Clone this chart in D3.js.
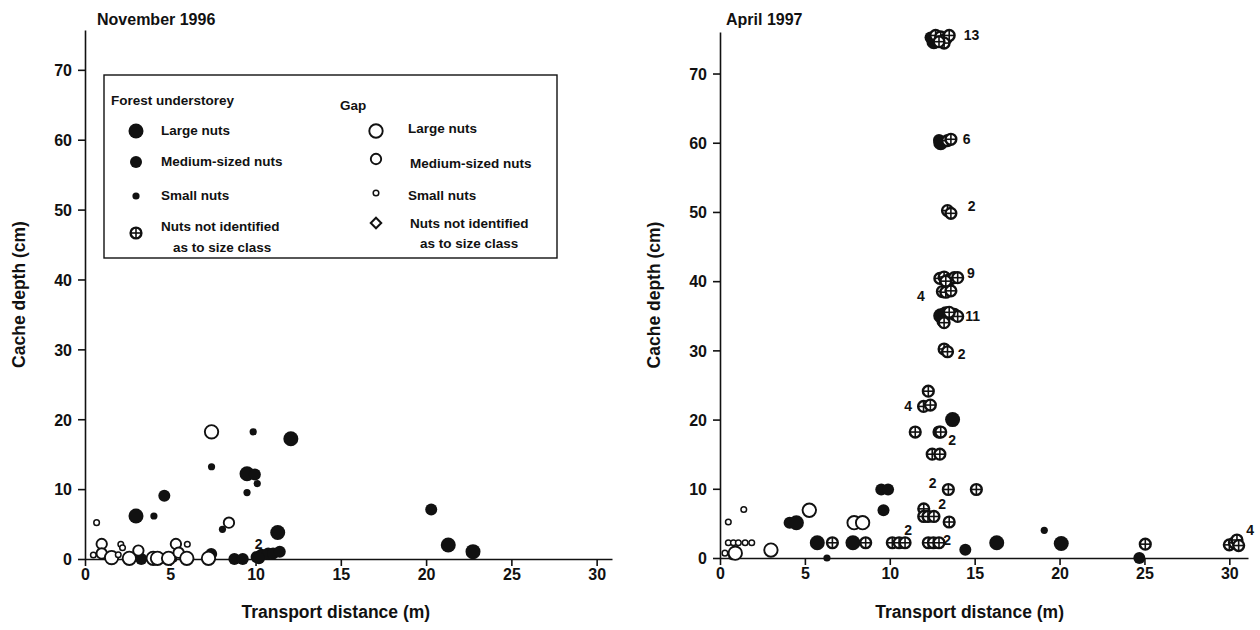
<!DOCTYPE html>
<html>
<head>
<meta charset="utf-8">
<script src="https://cdn.jsdelivr.net/npm/d3@7/dist/d3.min.js"></script>
<style>
  body { margin: 0; background: #fff; }
  svg { font-family: "Liberation Sans", Arial, sans-serif; font-weight: bold; }
  .axis path, .axis line { stroke: #111; stroke-width: 1.6px; }
  .axis text { font-size: 16px; font-weight: bold; fill: #111; font-family: "Liberation Sans", Arial, sans-serif; }
</style>
</head>
<body>
<svg id="chart" width="1260" height="630"></svg>
<script>
// Cache depth vs transport distance, two survey dates
// point types: F = forest understorey (filled), G = gap (open), L/M/S = size, X = not identified

const xTicks = [0, 5, 10, 15, 20, 25, 30];
const yTicks = [0, 10, 20, 30, 40, 50, 60, 70];

const nov96Points = [
  // forest understorey
  [9.86, 18.2, 'FS'], [12.07, 17.2, 'FL'], [7.42, 13.2, 'FS'], [9.5, 12.2, 'FL'], [9.96, 12.1, 'FM'],
  [10.1, 10.8, 'FS'], [9.5, 9.5, 'FS'], [4.65, 9.06, 'FM'], [2.99, 6.15, 'FL'], [4.04, 6.15, 'FS'],
  [8.06, 4.25, 'FS'], [11.3, 3.8, 'FL'], [7.4, 0.7, 'FM'], [8.76, 0, 'FM'], [9.25, 0, 'FM'],
  [10.06, 0.3, 'FM'], [10.35, 0.6, 'FM'], [10.74, 0.8, 'FM'], [11.03, 0.8, 'FM'], [11.42, 1.05, 'FM'],
  [10.2, 0.1, 'FM'], [3.3, 0, 'FM'], [5.2, 0, 'FS'],
  [20.3, 7.1, 'FM'], [21.3, 2.0, 'FL'], [22.75, 1.05, 'FL'],
  // gap
  [7.42, 18.2, 'GL'], [0.68, 5.2, 'GS'], [8.44, 5.2, 'GM'], [0.98, 2.15, 'GM'], [2.1, 2.1, 'GS'],
  [2.2, 1.6, 'GS'], [5.33, 2.15, 'GM'], [6.0, 2.1, 'GS'], [0.49, 0.57, 'GS'], [0.98, 0.8, 'GM'],
  [1.56, 0.2, 'GL'], [1.95, 0.6, 'GS'], [2.6, 0.1, 'GL'], [3.13, 1.2, 'GM'], [4.0, 0.1, 'GL'],
  [4.25, 0.1, 'GL'], [4.9, 0.1, 'GL'], [5.49, 0.9, 'GM'], [5.97, 0.1, 'GL'], [7.24, 0.1, 'GL']
];
const nov96Labels = [[9.95, 2.1, '2']];

const apr97Points = [
  // forest understorey, sized
  [4.1, 5.1, 'FM'], [4.5, 5.1, 'FL'], [5.73, 2.2, 'FL'], [6.3, 0, 'FS'], [7.83, 2.2, 'FL'],
  [9.5, 9.9, 'FM'], [9.9, 9.9, 'FM'], [9.63, 6.9, 'FM'], [13.7, 20, 'FL'], [14.45, 1.2, 'FM'],
  [16.3, 2.2, 'FL'], [19.1, 4.0, 'FS'], [20.1, 2.1, 'FL'], [24.7, 0, 'FM'],
  [12.6, 74.6, 'FL'], [12.4, 75.2, 'FM'], [13.0, 60.0, 'FL'], [12.9, 60.4, 'FM'],
  [13.0, 35.0, 'FL'], [13.3, 35.3, 'FL'], [13.1, 34.2, 'FM'],
  // forest understorey, not identified
  [6.62, 2.2, 'FX'], [8.58, 2.2, 'FX'], [10.15, 2.2, 'FX'], [10.55, 2.2, 'FX'], [10.9, 2.2, 'FX'],
  [12.27, 24.1, 'FX'], [11.99, 21.9, 'FX'], [12.39, 22.1, 'FX'], [11.5, 18.2, 'FX'], [12.9, 18.2, 'FX'],
  [13.0, 18.2, 'FX'], [12.5, 15, 'FX'], [12.95, 15, 'FX'], [13.45, 9.9, 'FX'], [15.1, 9.9, 'FX'],
  [12.0, 7.1, 'FX'], [12.0, 6.0, 'FX'], [12.25, 6.0, 'FX'], [12.6, 6.0, 'FX'], [13.5, 5.2, 'FX'],
  [12.27, 2.2, 'FX'], [12.57, 2.2, 'FX'], [12.9, 2.2, 'FX'], [25.05, 2.0, 'FX'],
  [30.0, 1.9, 'FX'], [30.3, 2.2, 'FX'], [30.45, 2.6, 'FX'], [30.55, 1.8, 'FX'],
  [12.7, 75.5, 'FX'], [13.0, 75.3, 'FX'], [13.3, 75.0, 'FX'], [13.5, 75.5, 'FX'], [13.2, 74.4, 'FX'], [12.9, 74.6, 'FX'],
  [13.4, 60.3, 'FX'], [13.6, 60.5, 'FX'],
  [13.4, 50.2, 'FX'], [13.6, 49.8, 'FX'],
  [12.95, 40.4, 'FX'], [13.2, 40.6, 'FX'], [13.5, 40.2, 'FX'], [13.8, 40.5, 'FX'], [14.0, 40.5, 'FX'], [13.3, 40.0, 'FX'],
  [13.1, 38.5, 'FX'], [13.3, 38.4, 'FX'], [13.6, 38.6, 'FX'],
  [13.8, 35.2, 'FX'], [14.0, 34.9, 'FX'], [13.5, 35.5, 'FX'], [13.2, 34.0, 'FX'],
  [13.2, 30.2, 'FX'], [13.4, 29.8, 'FX'],
  // gap
  [0.49, 5.2, 'GS'], [1.4, 7.0, 'GS'], [0.49, 2.2, 'GS'], [0.79, 2.2, 'GS'], [1.08, 2.2, 'GS'],
  [1.48, 2.2, 'GS'], [1.87, 2.2, 'GS'], [0.29, 0.7, 'GS'], [0.7, 0.2, 'GS'], [0.9, 0.7, 'GL'],
  [3.0, 1.15, 'GL'], [5.26, 6.9, 'GL'], [7.9, 5.1, 'GL'], [8.4, 5.1, 'GL']
];
const apr97Labels = [
  [14.35, 75.6, '13'], [14.3, 60.5, '6'], [14.6, 50.9, '2'], [14.55, 41.2, '9'], [11.6, 37.8, '4'],
  [14.45, 34.9, '11'], [14.0, 29.5, '2'], [10.85, 21.9, '4'], [13.45, 17.1, '2'], [12.3, 10.8, '2'],
  [12.85, 7.8, '2'], [10.85, 4.0, '2'], [13.15, 2.6, '2'], [31.0, 4.0, '4']
];

const legendLeft = [['FL', 'Large nuts'], ['FM', 'Medium-sized nuts'], ['FS', 'Small nuts'], ['FX', 'Nuts not identified', 'as to size class']];
const legendRight = [['GL', 'Large nuts'], ['GM', 'Medium-sized nuts'], ['GS', 'Small nuts'], ['GD', 'Nuts not identified', 'as to size class']];

const RADIUS = { L: 7.5, M: 6, S: 3.6, X: 5.4 };

const svg = d3.select('#chart');

function drawMarker(g, type, cx, cy) {
  const kind = type[0], size = type[1];
  if (size === 'X') {
    const r = RADIUS.X;
    g.append('circle').attr('cx', cx).attr('cy', cy).attr('r', r)
      .attr('fill', '#fff').attr('stroke', '#111').attr('stroke-width', 2.4);
    g.append('line').attr('x1', cx - r).attr('x2', cx + r).attr('y1', cy).attr('y2', cy)
      .attr('stroke', '#111').attr('stroke-width', 1.6);
    g.append('line').attr('x1', cx).attr('x2', cx).attr('y1', cy - r).attr('y2', cy + r)
      .attr('stroke', '#111').attr('stroke-width', 1.6);
  } else if (size === 'D') {
    g.append('path').attr('d', d3.symbol(d3.symbolDiamond2, 70)())
      .attr('transform', `translate(${cx},${cy})`)
      .attr('fill', '#fff').attr('stroke', '#111').attr('stroke-width', 2);
  } else if (kind === 'F') {
    g.append('circle').attr('cx', cx).attr('cy', cy).attr('r', RADIUS[size]).attr('fill', '#111');
  } else {
    const r = RADIUS[size] - 0.8;
    g.append('circle').attr('cx', cx).attr('cy', cy).attr('r', r)
      .attr('fill', '#fff').attr('stroke', '#111').attr('stroke-width', size === 'S' ? 1.5 : 1.9);
  }
}

function drawPanel(cfg) {
  const x = d3.scaleLinear().domain([0, cfg.xMax]).range([cfg.left, cfg.right]);
  const y = d3.scaleLinear().domain([0, cfg.yMax]).range([cfg.bottom, cfg.top]);

  svg.append('g').attr('class', 'axis')
    .attr('transform', `translate(0,${cfg.bottom})`)
    .call(d3.axisBottom(x).tickValues(xTicks).tickSize(7).tickSizeOuter(0).tickPadding(3));

  svg.append('g').attr('class', 'axis')
    .attr('transform', `translate(${cfg.left},0)`)
    .call(d3.axisLeft(y).tickValues(yTicks).tickSize(7).tickSizeOuter(0).tickPadding(6))
    .call(g => g.selectAll('.tick text').attr('dy', '0.36em'));

  svg.append('text').attr('x', cfg.titleX).attr('y', 25)
    .attr('font-size', 16).attr('fill', '#111').text(cfg.title);

  svg.append('text').attr('x', (cfg.left + x(30)) / 2 - 5).attr('y', 618)
    .attr('text-anchor', 'middle').attr('font-size', 17.5).attr('fill', '#111')
    .text('Transport distance (m)');

  svg.append('text')
    .attr('transform', `translate(${cfg.left - 60},${(cfg.bottom + cfg.top) / 2}) rotate(-90)`)
    .attr('text-anchor', 'middle').attr('font-size', 17.5).attr('fill', '#111')
    .text('Cache depth (cm)');

  const marks = svg.append('g');
  const filled = cfg.points.filter(d => d[2][0] === 'F');
  const open = cfg.points.filter(d => d[2][0] === 'G');
  filled.concat(open).forEach(d => drawMarker(marks, d[2], x(d[0]), y(d[1])));

  svg.append('g').selectAll('text').data(cfg.labels).join('text')
    .attr('x', d => x(d[0])).attr('y', d => y(d[1]))
    .attr('dy', '0.35em').attr('font-size', 14).attr('fill', '#111')
    .text(d => d[2]);
}

drawPanel({ left: 85, right: 612, top: 30, bottom: 559, xMax: 30.9, yMax: 75.7,
  title: 'November 1996', titleX: 97, points: nov96Points, labels: nov96Labels });
drawPanel({ left: 720, right: 1248, top: 32, bottom: 558, xMax: 31.1, yMax: 76,
  title: 'April 1997', titleX: 726, points: apr97Points, labels: apr97Labels });

// legend box (left panel)
const leg = svg.append('g');
leg.append('rect').attr('x', 104).attr('y', 75).attr('width', 453).attr('height', 183)
  .attr('fill', '#fff').attr('stroke', '#111').attr('stroke-width', 1.4);
leg.append('text').attr('x', 111).attr('y', 105).attr('font-size', 13.5).attr('fill', '#111').text('Forest understorey');
leg.append('text').attr('x', 340).attr('y', 110).attr('font-size', 13.5).attr('fill', '#111').text('Gap');

const rowY = [130, 161, 195, 226];
legendLeft.forEach((d, i) => {
  const cy = i === 3 ? 233 : rowY[i] + 1;
  drawMarker(leg, d[0], 136, cy);
  leg.append('text').attr('x', 161).attr('y', rowY[i]).attr('dy', '0.35em')
    .attr('font-size', 13.5).attr('fill', '#111').text(d[1]);
  if (d[2]) leg.append('text').attr('x', 173).attr('y', rowY[i] + 21).attr('dy', '0.35em')
    .attr('font-size', 13.5).attr('fill', '#111').text(d[2]);
});
const rowYR = [128, 163, 195, 223];
legendRight.forEach((d, i) => {
  const cy = [131, 159, 193, 223][i];
  drawMarker(leg, d[0], 376, cy);
  leg.append('text').attr('x', i === 1 || i === 3 ? 410 : 408).attr('y', rowYR[i]).attr('dy', '0.35em')
    .attr('font-size', 13.5).attr('fill', '#111').text(d[1]);
  if (d[2]) leg.append('text').attr('x', 420).attr('y', rowYR[i] + 20).attr('dy', '0.35em')
    .attr('font-size', 13.5).attr('fill', '#111').text(d[2]);
});
</script>
</body>
</html>
